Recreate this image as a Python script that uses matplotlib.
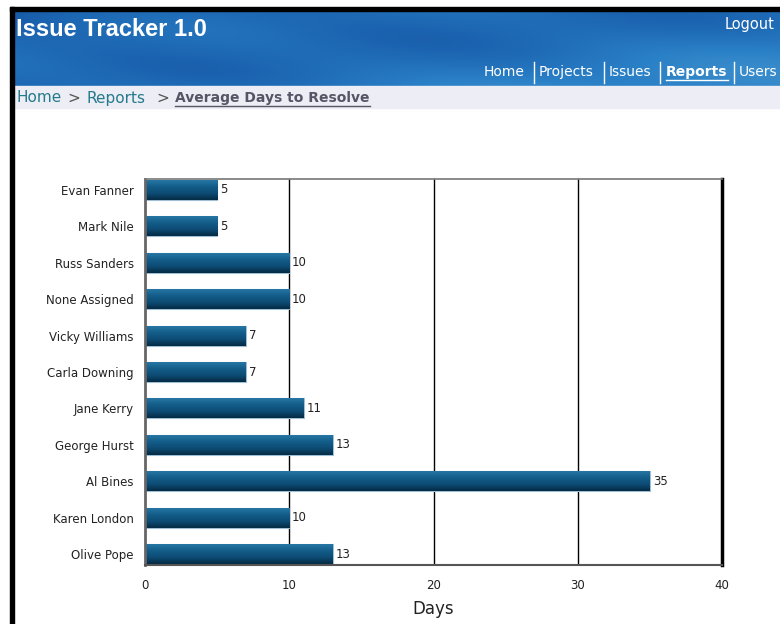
import numpy as np
import matplotlib
matplotlib.use("Agg")
from matplotlib import pyplot as plt
from matplotlib.patches import Rectangle
from matplotlib.colors import LinearSegmentedColormap

# chart data
names = ["Evan Fanner", "Mark Nile", "Russ Sanders", "None Assigned", "Vicky Williams",
         "Carla Downing", "Jane Kerry", "George Hurst", "Al Bines", "Karen London", "Olive Pope"]
days = [5, 5, 10, 10, 7, 7, 11, 13, 35, 10, 13]
xticks = [0, 10, 20, 30, 40]
nav_items = ["Home", "Projects", "Issues", "Reports", "Users"]
crumbs = ["Home", "Reports", "Average Days to Resolve"]

plt.rcParams["font.family"] = ["DejaVu Sans"]

W, H = 780, 624
fig = plt.figure(figsize=(W / 100, H / 100), dpi=100)
fig.patch.set_facecolor("white")


def px_axes(x0, y0, x1, y1):
    """axes placed in pixel coords measured from the top-left corner"""
    return fig.add_axes([x0 / W, 1 - y1 / H, (x1 - x0) / W, (y1 - y0) / H])


# header banner
hdr = px_axes(14, 11, W, 86)
yy, xx = np.mgrid[0:1:75j, 0:1:766j]
shade = (0.45 + 0.25 * xx + 0.2 * yy + 0.1 * np.sin(5 * xx + 4 * yy)
         + 0.06 * np.sin(13 * xx - 6 * yy))
hdr_cmap = LinearSegmentedColormap.from_list("hdr", ["#0d3f85", "#1b63b0", "#2a80c6", "#4a9ad2"])
hdr.imshow(shade, cmap=hdr_cmap, vmin=0.2, vmax=1.2, aspect="auto",
           extent=(0, 1, 1, 0), interpolation="bicubic")
hdr.set_xlim(0, 1)
hdr.set_ylim(1, 0)
hdr.axis("off")

# overlay in pixel coords: border, separators, breadcrumb band
frame = px_axes(0, 0, W, H)
frame.set_xlim(0, W)
frame.set_ylim(H, 0)
frame.axis("off")
frame.patch.set_alpha(0)
frame.add_patch(Rectangle((10, 7), W - 10, 4, color="black"))
frame.add_patch(Rectangle((10, 7), 4, H - 7, color="black"))
frame.add_patch(Rectangle((14, 86), W - 14, 22, color="#ededf5", zorder=0))

fig.text(16 / W, 1 - 29 / H, "Issue Tracker 1.0", color="white", fontsize=17,
         fontweight="bold", family="Liberation Sans", va="center", ha="left")
fig.text(775 / W, 1 - 25 / H, "Logout", color="white", fontsize=10.5,
         va="center", ha="right")

nav_x = [484, 539, 609, 666, 739]
sep_x = [534, 604, 660, 734]
for label, x in zip(nav_items, nav_x):
    bold = label == "Reports"
    fig.text(x / W, 1 - 72 / H, label, color="white", fontsize=10,
             fontweight="bold" if bold else "normal", va="center", ha="left")
for x in sep_x:
    frame.plot([x, x], [62, 83], color="white", lw=1)
frame.plot([666, 728], [80, 80], color="white", lw=1)

teal = "#237a8c"
fig.text(16 / W, 1 - 98 / H, crumbs[0], color=teal, fontsize=11, va="center", ha="left")
fig.text(67 / W, 1 - 98 / H, ">", color="#555555", fontsize=11, va="center", ha="left")
fig.text(86 / W, 1 - 98 / H, crumbs[1], color=teal, fontsize=11, va="center", ha="left")
fig.text(156 / W, 1 - 98 / H, ">", color="#555555", fontsize=11, va="center", ha="left")
fig.text(175 / W, 1 - 98 / H, crumbs[2], color="#555566", fontsize=10, fontweight="bold",
         va="center", ha="left")
frame.plot([175, 370], [106, 106], color="#555566", lw=1)

# the chart
ax = px_axes(145, 179, 722, 565)
ypos = np.arange(len(names))
bar_h = 0.55

for x in xticks[1:-1]:
    ax.axvline(x, color="black", lw=1, zorder=1)

grad = np.linspace(0, 1, 64).reshape(-1, 1)
bar_cmap = LinearSegmentedColormap.from_list(
    "bar", ["#2a7aa8", "#155f8c", "#0d4d76", "#052b45"])
bars = ax.barh(ypos, days, height=bar_h, color="#0f5580", edgecolor="#9fc0d4",
               lw=0.8, zorder=2)
for bar, v in zip(bars, days):
    y0 = bar.get_y()
    # y axis is inverted, so the top of the bar is y0
    im = ax.imshow(grad, cmap=bar_cmap, aspect="auto", zorder=2.5,
                   extent=(0, v, y0 + bar_h, y0), interpolation="bicubic")
    im.set_clip_path(bar)
    ax.text(v + 0.2, y0 + bar_h / 2, str(v), va="center", ha="left",
            fontsize=8.5, color="#222222", zorder=3)
ax.set_xlim(0, 40)
ax.set_ylim(len(names) - 0.7, -0.3)

ax.set_yticks(ypos)
ax.set_yticklabels(names, fontsize=8.5, color="#222222")
ax.set_xticks(xticks)
ax.set_xticklabels([str(t) for t in xticks], fontsize=8.5, color="#222222")
ax.tick_params(length=0, pad=8)
ax.tick_params(axis="x", pad=10)
ax.set_xlabel("Days", fontsize=12, color="#222222", labelpad=6)

ax.spines["left"].set_color("#666666")
ax.spines["left"].set_linewidth(2)
ax.spines["bottom"].set_color("#555555")
ax.spines["bottom"].set_linewidth(1.5)
ax.spines["top"].set_color("#777777")
ax.spines["top"].set_linewidth(1.2)
ax.spines["right"].set_color("black")
ax.spines["right"].set_linewidth(2.5)

fig.savefig("out.png", dpi=100)
